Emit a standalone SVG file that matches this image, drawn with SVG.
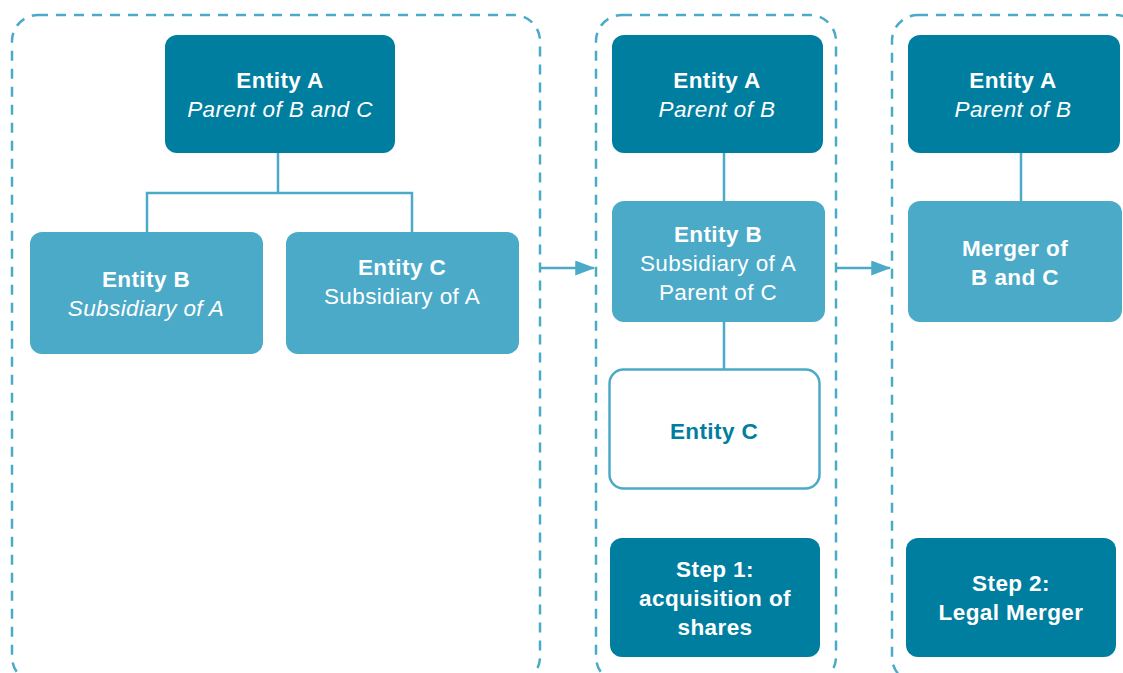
<svg xmlns="http://www.w3.org/2000/svg" width="1123" height="673" viewBox="0 0 1123 673">
<style>
.frame{fill:none;stroke:#4BAAC8;stroke-width:2.5;stroke-dasharray:10 8}
.dark{fill:#007EA0}
.light{fill:#4BAAC8}
.hollow{fill:#fff;stroke:#4BAAC8;stroke-width:2.5}
.t{font-family:"Liberation Sans",Arial,sans-serif;font-size:22.5px;letter-spacing:0.4px;fill:#fff;text-anchor:middle}
.b{font-weight:bold}
.i{font-style:italic}
.line{fill:none;stroke:#4BAAC8;stroke-width:2.5}
</style>
<defs>
<marker id="ah" markerWidth="8" markerHeight="6" refX="7.5" refY="3" orient="auto" markerUnits="strokeWidth">
<path d="M0,0 L8,3 L0,6 z" fill="#4BAAC8"/>
</marker>
</defs>
<g id="frames">
<rect class="frame" x="12" y="15" width="528" height="668" rx="26"/>
<rect class="frame" x="596" y="15" width="240" height="668" rx="26"/>
<rect class="frame" x="892" y="15" width="250" height="668" rx="26"/>
</g>
<g id="connectors">
<path class="line" d="M278,153 V193 M147,232 V193 H412 V232"/>
<path class="line" d="M724,153 V201 M724,322 V369"/>
<path class="line" d="M1021,153 V201"/>
<line class="line" x1="541" y1="268" x2="594" y2="268" marker-end="url(#ah)"/>
<line class="line" x1="837" y1="268" x2="890" y2="268" marker-end="url(#ah)"/>
</g>
<g id="entityA1">
<rect class="dark" x="165" y="35" width="230" height="118" rx="12"/>
<text class="t b" x="280" y="88">Entity A</text>
<text class="t i" x="280" y="117">Parent of B and C</text>
</g>
<g id="entityB1">
<rect class="light" x="30" y="232" width="233" height="122" rx="12"/>
<text class="t b" x="146" y="287">Entity B</text>
<text class="t i" x="146" y="316">Subsidiary of A</text>
</g>
<g id="entityC1">
<rect class="light" x="286" y="232" width="233" height="122" rx="12"/>
<text class="t b" x="402" y="275">Entity C</text>
<text class="t" x="402" y="304">Subsidiary of A</text>
</g>
<g id="entityA2">
<rect class="dark" x="612" y="35" width="211" height="118" rx="12"/>
<text class="t b" x="717" y="88">Entity A</text>
<text class="t i" x="717" y="117">Parent of B</text>
</g>
<g id="entityB2">
<rect class="light" x="612" y="201" width="213" height="121" rx="12"/>
<text class="t b" x="718" y="242">Entity B</text>
<text class="t" x="718" y="271">Subsidiary of A</text>
<text class="t" x="718" y="300">Parent of C</text>
</g>
<g id="entityC2">
<rect class="hollow" x="609.5" y="369.5" width="210" height="119" rx="14"/>
<text class="t b" x="714" y="439" style="fill:#007EA0">Entity C</text>
</g>
<g id="step1">
<rect class="dark" x="610" y="538" width="210" height="119" rx="12"/>
<text class="t b" x="715" y="577">Step 1:</text>
<text class="t b" x="715" y="606">acquisition of</text>
<text class="t b" x="715" y="635">shares</text>
</g>
<g id="entityA3">
<rect class="dark" x="908" y="35" width="212" height="118" rx="12"/>
<text class="t b" x="1013" y="88">Entity A</text>
<text class="t i" x="1013" y="117">Parent of B</text>
</g>
<g id="merger">
<rect class="light" x="908" y="201" width="214" height="121" rx="12"/>
<text class="t b" x="1015" y="256">Merger of</text>
<text class="t b" x="1015" y="285">B and C</text>
</g>
<g id="step2">
<rect class="dark" x="906" y="538" width="210" height="119" rx="12"/>
<text class="t b" x="1011" y="591">Step 2:</text>
<text class="t b" x="1011" y="620">Legal Merger</text>
</g>
</svg>
